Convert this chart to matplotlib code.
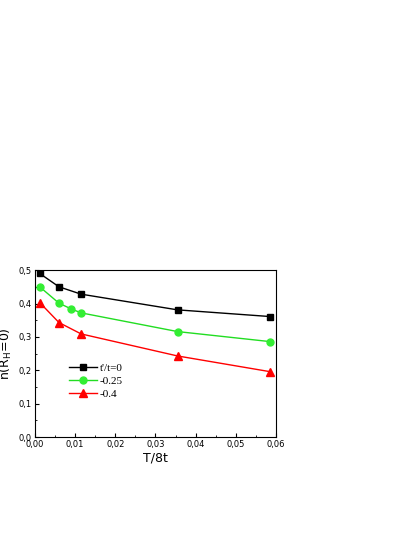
import matplotlib
matplotlib.use("Agg")
import matplotlib.pyplot as plt
from matplotlib.ticker import FuncFormatter, MultipleLocator

x_black = [0.0012, 0.006, 0.0115, 0.0355, 0.0585]
y_black = [0.490, 0.450, 0.428, 0.381, 0.361]
x_green = [0.0012, 0.006, 0.009, 0.0115, 0.0355, 0.0585]
y_green = [0.450, 0.401, 0.384, 0.372, 0.316, 0.286]
x_red = [0.0012, 0.006, 0.0115, 0.0355, 0.0585]
y_red = [0.403, 0.343, 0.309, 0.243, 0.196]
labels = ["t'/t=0", "-0.25", "-0.4"]

fig = plt.figure(figsize=(4.15, 5.37), dpi=100)
ax = fig.add_axes([0.084, 0.186, 0.581, 0.311])
ax.plot(x_black, y_black, '-s', color='black', ms=4.5, lw=1, label=labels[0])
ax.plot(x_green, y_green, '-o', color='#22dd22', mfc='#33ee33', mec='#33ee33', ms=5, lw=1, label=labels[1])
ax.plot(x_red, y_red, '-^', color='red', ms=5.5, lw=1, label=labels[2])
ax.set_xlim(0, 0.06)
ax.set_ylim(0, 0.5)
ax.xaxis.set_major_locator(MultipleLocator(0.01))
ax.xaxis.set_minor_locator(MultipleLocator(0.005))
ax.yaxis.set_major_locator(MultipleLocator(0.1))
ax.yaxis.set_minor_locator(MultipleLocator(0.05))
ax.xaxis.set_major_formatter(FuncFormatter(lambda v, p: f"{v:.2f}".replace('.', ',')))
ax.yaxis.set_major_formatter(FuncFormatter(lambda v, p: f"{v:.1f}".replace('.', ',')))
ax.tick_params(which='both', direction='in', labelsize=6, top=False, right=False, pad=2)
ax.tick_params(which='major', length=3)
ax.tick_params(which='minor', length=1.5)
ax.set_xlabel('T/8t', fontsize=9, labelpad=2)
ax.set_ylabel(r'n(R$_{\rm H}$=0)', fontsize=9)
ax.yaxis.set_label_coords(-0.085, 0.5)
ax.legend(loc='lower left', bbox_to_anchor=(0.1, 0.17), frameon=False,
          handlelength=2.5, labelspacing=0.3, handletextpad=0.3,
          prop={'family': 'Liberation Serif', 'size': 8})
fig.savefig('out.png', dpi=100)
